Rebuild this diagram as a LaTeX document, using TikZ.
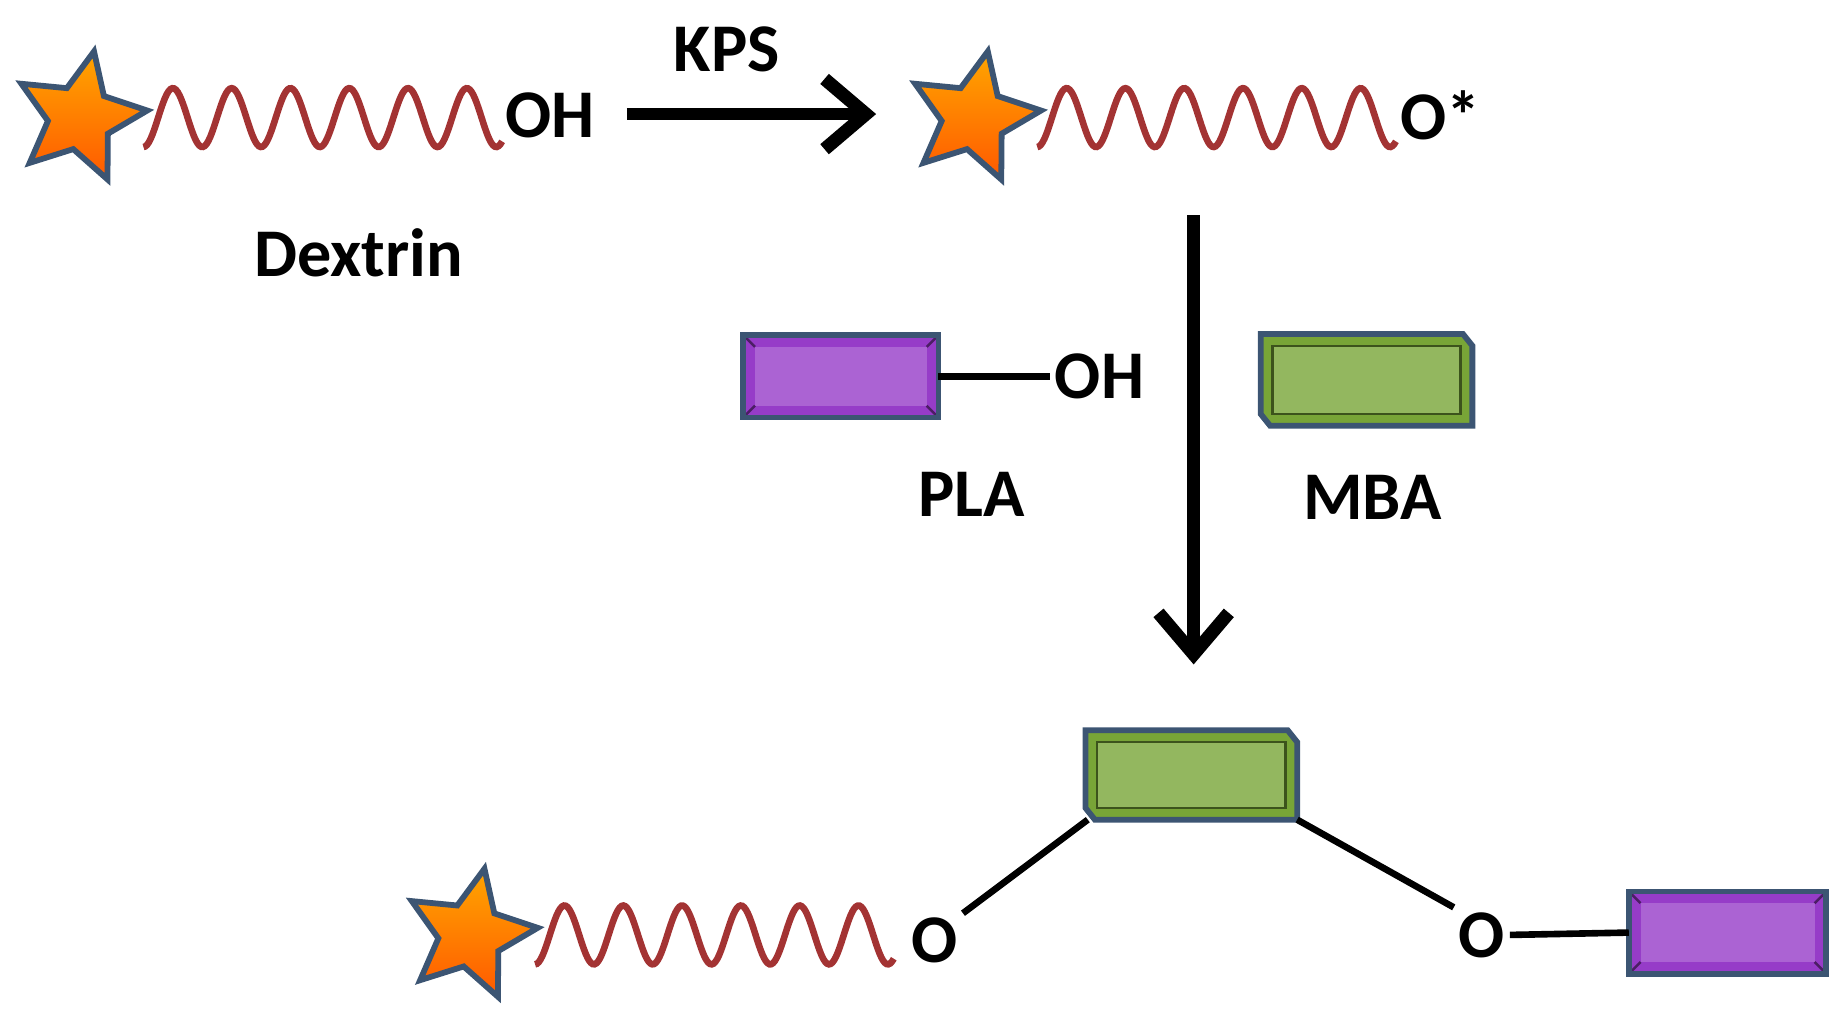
\documentclass[tikz,border=0pt]{standalone}
\usepackage{fontspec}
\setmainfont{Carlito}
\usetikzlibrary{arrows.meta,shapes.geometric}

\definecolor{edgeblue}{RGB}{60,85,115}
\definecolor{plapurple}{RGB}{150,60,200}
\definecolor{mbagreen}{RGB}{120,165,55}
\tikzset{
  lbl/.style={font=\fontsize{16.5}{20}\selectfont\bfseries,inner sep=1pt},
  starnode/.style={star,star points=5,star point ratio=2.1,minimum size=1.15cm,inner sep=0pt,
    top color=orange!70!yellow,bottom color=orange!70!red,draw=edgeblue,line width=1.4pt,rotate=-12},
  chain/.style={draw=red!55!black!80,line width=1.6pt},
  bond/.style={line width=1.6pt},
  rxn/.style={line width=3pt,-{Straight Barb[length=10pt,width=17pt,line width=3.2pt]}}
}
% bevelled block: name, fill colour, corners
\newcommand{\blockbox}[6]{%
  \fill[#2] (#3,#4) rectangle (#5,#6);
  \fill[#2!80!white] (#3+10,#4+10) rectangle (#5-10,#6-10);
  \draw[#2!50!black,line width=0.6pt] (#3,#4)--(#3+10,#4+10) (#5,#4)--(#5-10,#4+10)
    (#3,#6)--(#3+10,#6-10) (#5,#6)--(#5-10,#6-10);
  \draw[edgeblue,line width=1.4pt] (#3,#4) rectangle (#5,#6);
  \coordinate (#1) at ({(#3+#5)/2},{(#4+#6)/2});}
% clipped-corner block for the crosslinker
\newcommand{\clipbox}[6]{%
  \filldraw[fill=#2,draw=edgeblue,line width=1.4pt] (#3,#4)--(#5-8,#4)--(#5,#4+10)--(#5,#6)
    --(#3+8,#6)--(#3,#6-10)--cycle;
  \fill[#2!80!white] (#3+10,#4+10) rectangle (#5-10,#6-10);
  \draw[#2!50!black,line width=0.6pt] (#3+10,#4+10) rectangle (#5-10,#6-10);
  \coordinate (#1) at ({(#3+#5)/2},{(#4+#6)/2});}

\begin{document}
\begin{tikzpicture}[x=0.01cm,y=-0.01cm]
  \useasboundingbox (0,0) rectangle (1568,873);
  % top left dextrin
  \draw[chain] plot[variable=\t,domain=0:305,samples=200] ({122+\t},{100+25*sin(\t*7.2+90)});
  \node[starnode] (s1) at (68,100) {};
  \node[lbl] (oh1) at (468,98) {OH};
  \node[lbl] (dex) at (305,215) {Dextrin};
  % KPS step
  \coordinate (a1) at (533,97);
  \coordinate (a2) at (745,97);
  \draw[rxn] (a1) -- (a2);
  \node[lbl] (kps) at (618,42) {KPS};
  % radical
  \draw[chain] plot[variable=\t,domain=0:305,samples=200] ({882+\t},{100+25*sin(\t*7.2+90)});
  \node[starnode] (s2) at (828,100) {};
  \node[lbl] (o1) at (1225,98) {O*};
  % grafting step
  \coordinate (b1) at (1015,183);
  \coordinate (b2) at (1015,565);
  \draw[rxn] (b1) -- (b2);
  \blockbox{pla}{plapurple}{632}{285}{798}{355}
  \node[lbl] (oh2) at (935,320) {OH};
  \draw[bond] (798,320) -- (oh2.west);
  \node[lbl] (plal) at (826,420) {PLA};
  \clipbox{mba}{mbagreen}{1072}{284}{1252}{362}
  \node[lbl] (mbal) at (1167,423) {MBA};
  % product
  \clipbox{mba2}{mbagreen}{923}{621}{1103}{697}
  \draw[chain] plot[variable=\t,domain=0:305,samples=200] ({455+\t},{795+25*sin(\t*7.2+90)});
  \node[starnode] (s3) at (400,795) {};
  \node[lbl] (o2) at (795,800) {O};
  \node[lbl] (o3) at (1260,795) {O};
  \blockbox{pla2}{plapurple}{1385}{758}{1553}{828}
  \coordinate (c1) at (925,697);
  \coordinate (c2) at (1103,697);
  \coordinate (c3) at (1385,793);
  \draw[bond] (o2.north east) -- (c1);
  \draw[bond] (c2) -- (o3.north west);
  \draw[bond] (o3.east) -- (c3);
\end{tikzpicture}
\end{document}
